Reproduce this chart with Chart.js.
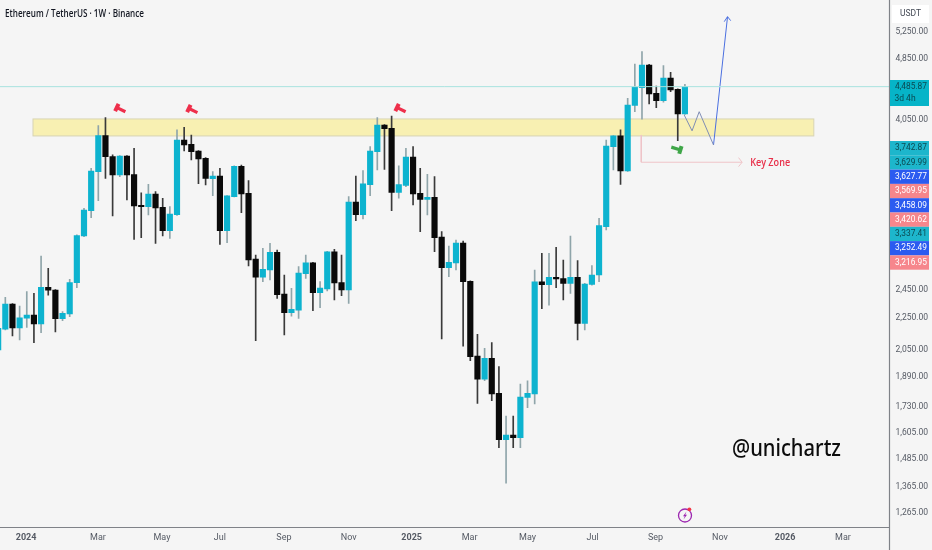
<!DOCTYPE html>
<html>
<head>
<meta charset="utf-8">
<title>Ethereum / TetherUS</title>
<script src="https://cdn.jsdelivr.net/npm/chart.js@4"></script>
<style>
  html, body { margin: 0; padding: 0; background: #f5f5f5; }
  canvas { display: block; }
</style>
</head>
<body>
<canvas id="chart" width="932" height="550"></canvas>
<script>
const opens = [
  2049, 2180, 2347, 2187, 2252, 2272, 2213, 2466, 2447, 2248,
  2279, 2501, 2871, 3094, 3473, 3863, 3631, 3439, 3638, 3442,
  3143, 3131, 3251, 3125, 2916, 3058, 3814, 3766, 3692, 3613,
  3402, 3429, 2916, 3225, 3528, 3257, 2682, 2541, 2596, 2735,
  2418, 2288, 2306, 2568, 2651, 2428, 2454, 2740, 2501, 2447,
  3175, 3058, 3342, 3685, 3987, 3949, 3267, 3335, 3627, 3257,
  3200, 3219, 2862, 2614, 2651, 2812, 2511, 2013, 1879, 1999,
  1802, 1572, 1593, 1581, 1781, 1799, 2506, 2486, 2541, 2531,
  2496, 2541, 2217, 2488, 2558, 2951, 3740, 3860, 3480, 4226,
  4452, 4761, 4379, 4285, 4582, 4431, 4119
];
const closes = [
  2185, 2347, 2187, 2254, 2272, 2213, 2466, 2445, 2248, 2284,
  2501, 2874, 3100, 3480, 3863, 3631, 3439, 3638, 3439, 3137,
  3131, 3251, 3119, 2916, 3064, 3814, 3758, 3685, 3606, 3405,
  3429, 2916, 3232, 3528, 3251, 2674, 2541, 2601, 2735, 2413,
  2288, 2311, 2573, 2651, 2428, 2461, 2740, 2498, 2447, 3175,
  3058, 3349, 3692, 3987, 3945, 3267, 3342, 3627, 3251, 3200,
  3219, 2857, 2614, 2656, 2812, 2508, 2009, 1879, 1999, 1799,
  1572, 1593, 1581, 1783, 1802, 2506, 2486, 2541, 2528, 2496,
  2541, 2217, 2491, 2558, 2960, 3747, 3860, 3480, 4230, 4461,
  4761, 4370, 4285, 4582, 4422, 4119, 4466
];
const highs = [
  2217, 2394, 2350, 2334, 2435, 2423, 2706, 2609, 2450, 2295,
  2526, 2880, 3115, 3507, 3980, 4075, 3649, 3642, 3642, 3721,
  3263, 3345, 3274, 3210, 3131, 3929, 3960, 3871, 3695, 3620,
  3473, 3507, 3236, 3532, 3542, 3382, 2714, 2768, 2809, 2754,
  2558, 2459, 2622, 2714, 2655, 2508, 2744, 2760, 2714, 3225,
  3429, 3483, 3740, 4075, 3991, 4095, 3532, 3721, 3740, 3507,
  3446, 3422, 2908, 2787, 2837, 2829, 2515, 2147, 2059, 2094,
  1951, 1685, 1685, 1853, 1870, 2596, 2727, 2727, 2776, 2674,
  2871, 2669, 2495, 2630, 3025, 3814, 3865, 3929, 4314, 4776,
  4953, 4771, 4475, 4752, 4660, 4436, 4497
];
const lows = [
  1989, 2174, 2136, 2111, 2191, 2094, 2157, 2409, 2161, 2235,
  2261, 2464, 2865, 3031, 3188, 3405, 3046, 3422, 3194, 2843,
  2857, 3055, 2809, 2871, 2851, 3052, 3692, 3595, 3352, 3339,
  3235, 2801, 2815, 3222, 3076, 2627, 2107, 2508, 2521, 2387,
  2142, 2265, 2250, 2533, 2302, 2322, 2440, 2376, 2406, 2352,
  3004, 3019, 3235, 3490, 3497, 3094, 3210, 3322, 3147, 2908,
  3055, 2740, 2117, 2546, 2596, 2073, 1985, 1750, 1871, 1764,
  1535, 1382, 1535, 1535, 1728, 1747, 2315, 2340, 2464, 2376,
  2423, 2111, 2174, 2483, 2508, 2922, 3490, 3345, 3475, 4147,
  4055, 4243, 4197, 4264, 4400, 3806, 4115
];

const xTickPositions = [3.9, 13.95, 22.9, 31, 39.95, 49, 57.8, 65.9, 74, 83.1, 91.9, 100.9, 110, 118.1];
const xTickLabels = ['2024', 'Mar', 'May', 'Jul', 'Sep', 'Nov', '2025', 'Mar', 'May', 'Jul', 'Sep', 'Nov', '2026', 'Mar'];
const yTicks = [5250, 4850, 4050, 2450, 2250, 2050, 1890, 1730, 1605, 1485, 1365, 1265];

const zoneLow = 3860;
const zoneHigh = 4059;
const zoneFrom = 4.87;
const zoneTo = 114.02;

const pathGrayX = [95.9, 97, 98, 100];
const pathGrayY = [4107, 3919, 4147, 3758];
const pathBlueX = [100, 101.96];
const pathBlueY = [3758, 5493];
const headBlueX = [101.5, 101.96, 102.4];
const headBlueY = [5413, 5493, 5429];

const keyLineX = [89.9, 89.9, 104];
const keyLineY = [3871, 3571, 3571];
const keyHeadX = [103.5, 104, 103.5];
const keyHeadY = [3620, 3571, 3525];

const redMarkX = [17.03, 27.1, 56.2];
const redMarkY = [4179, 4168, 4179];
const greenMarkX = [94.9];
const greenMarkY = [3715];

const lastPriceLabel = '4,485.87';
const lastTimeLabel = '3d 4h';
const sideLabels = ['3,742.87', '3,629.99', '3,627.77', '3,569.95', '3,458.09', '3,420.62', '3,337.41', '3,252.49', '3,216.95'];
const sideKinds = ['teal', 'teal', 'blue', 'red', 'blue', 'red', 'teal', 'blue', 'red'];

const TEAL = '#0db3cf';
const BLACK = '#0a0a0a';
const FONT = '"Open Sans", sans-serif';
const AXIS_FONT = 'Roboto, sans-serif';
const kindColors = { teal: ['#1db6cc', '#0b4a52'], blue: ['#2b5bf0', '#ffffff'], red: ['#f6868c', '#ffffff'] };

const idx = opens.map((_, i) => i);
const isUp = i => closes[i] >= opens[i];
const wicks = idx.map(i => ({ x: i, y: [lows[i], highs[i]] }));
const bodies = idx.map(i => ({ x: i, y: [opens[i], closes[i]] }));
const toPts = (xs, ys) => xs.map((x, i) => ({ x, y: ys[i] }));

const xMin = 0.257;
const xMax = 124.6;
const lastClose = closes[closes.length - 1];

function lineSet(data, color) {
  return { type: 'line', data, borderColor: color, borderWidth: 1, pointRadius: 0, tension: 0, fill: false, order: 0 };
}

function hammer(ctx, x, y, angle, color) {
  ctx.save();
  ctx.translate(x, y);
  ctx.rotate(angle);
  ctx.fillStyle = color;
  ctx.fillRect(-4.5, -1.6, 10.5, 3.2);
  ctx.fillRect(-5.5, -4, 4, 8);
  ctx.restore();
}

function noPadding(scale) {
  scale.paddingTop = 0;
  scale.paddingBottom = 0;
  scale.paddingLeft = 0;
  scale.paddingRight = 0;
}

const drawingPlugin = {
  id: 'drawing',
  beforeDatasetsDraw(chart) {
    const { ctx, scales: { x, y } } = chart;
    const left = x.getPixelForValue(zoneFrom);
    const right = x.getPixelForValue(zoneTo);
    const top = y.getPixelForValue(zoneHigh);
    const bottom = y.getPixelForValue(zoneLow);
    ctx.save();
    ctx.fillStyle = '#f8f0b2';
    ctx.strokeStyle = '#d8d4b4';
    ctx.lineWidth = 1;
    ctx.fillRect(left, top, right - left, bottom - top);
    ctx.strokeRect(left, top, right - left, bottom - top);
    ctx.restore();
  },
  afterDatasetsDraw(chart) {
    const { ctx, scales: { x, y }, chartArea } = chart;
    ctx.save();

    redMarkX.forEach((v, i) => hammer(ctx, x.getPixelForValue(v), y.getPixelForValue(redMarkY[i]), 0.45, '#ee2f4b'));
    greenMarkX.forEach((v, i) => hammer(ctx, x.getPixelForValue(v), y.getPixelForValue(greenMarkY[i]), Math.PI + 0.3, '#3fa648'));

    ctx.textBaseline = 'middle';
    ctx.fillStyle = '#e8304a';
    ctx.font = '600 10.5px ' + FONT;
    ctx.textAlign = 'left';
    ctx.fillText('Key Zone', x.getPixelForValue(keyLineX[2]) + 8, y.getPixelForValue(keyLineY[2]) + 1, 40);

    ctx.fillStyle = '#131722';
    ctx.font = '600 10.5px ' + FONT;
    ctx.fillText('Ethereum / TetherUS · 1W · Binance', 5, 14, 139);

    ctx.fillStyle = '#0c0c0c';
    ctx.font = '500 24px "Noto Sans", sans-serif';
    ctx.fillText('@unichartz', 732, 449, 109);

    // event badge on the time axis
    const bx = 685, by = 515.5;
    ctx.strokeStyle = '#9c27b0';
    ctx.lineWidth = 1.3;
    ctx.beginPath();
    ctx.arc(bx, by, 6.5, 0, Math.PI * 2);
    ctx.stroke();
    ctx.fillStyle = '#9c27b0';
    ctx.beginPath();
    ctx.moveTo(bx + 1.5, by - 4);
    ctx.lineTo(bx - 2, by + 0.8);
    ctx.lineTo(bx - 0.2, by + 0.8);
    ctx.lineTo(bx - 1.5, by + 4);
    ctx.lineTo(bx + 2, by - 0.8);
    ctx.lineTo(bx + 0.2, by - 0.8);
    ctx.closePath();
    ctx.fill();
    ctx.fillStyle = '#f23645';
    ctx.beginPath();
    ctx.arc(bx + 4.4, by - 6.2, 1.9, 0, Math.PI * 2);
    ctx.fill();

    // axis frame
    const axisX = Math.round(chartArea.right) - 0.5;
    const axisY = Math.round(chartArea.bottom) + 0.5;
    ctx.strokeStyle = '#7f8288';
    ctx.lineWidth = 1.2;
    ctx.beginPath();
    ctx.moveTo(axisX, 0);
    ctx.lineTo(axisX, 550);
    ctx.moveTo(0, axisY);
    ctx.lineTo(axisX, axisY);
    ctx.stroke();

    // price axis labels
    ctx.fillStyle = '#ffffff';
    ctx.fillRect(892, 5, 37, 18);
    ctx.fillStyle = '#444a55';
    ctx.font = '8.5px ' + AXIS_FONT;
    ctx.textAlign = 'center';
    ctx.fillText('USDT', 910.5, 14);

    ctx.fillStyle = '#06b4c8';
    ctx.fillRect(890, 80, 39, 26);
    ctx.fillStyle = '#0b4a52';
    ctx.fillText(lastPriceLabel, 911, 87, 32);
    ctx.fillText(lastTimeLabel, 905, 98.5);

    sideLabels.forEach((label, i) => {
      const [bg, fg] = kindColors[sideKinds[i]];
      const top = 141 + i * 14.3;
      ctx.fillStyle = bg;
      ctx.fillRect(890, top, 39, 14.3);
      ctx.fillStyle = fg;
      ctx.fillText(label, 911, top + 7.2, 32);
    });
    ctx.restore();
  }
};

new Chart(document.getElementById('chart'), {
  type: 'bar',
  data: {
    datasets: [
      lineSet(toPts([xMin, xMax], [lastClose, lastClose]), '#a9e3df'),
      {
        data: wicks,
        grouped: false,
        barThickness: 1,
        order: 3,
        backgroundColor: idx.map(i => (isUp(i) ? '#8fa5aa' : '#3a3a3a'))
      },
      {
        data: bodies,
        grouped: false,
        barThickness: 5.5,
        order: 2,
        backgroundColor: idx.map(i => (isUp(i) ? TEAL : BLACK))
      },
      lineSet(toPts(pathGrayX, pathGrayY), '#7f8db5'),
      lineSet(toPts(pathBlueX, pathBlueY), '#4a6fe0'),
      lineSet(toPts(headBlueX, headBlueY), '#4a6fe0'),
      lineSet(toPts(keyLineX, keyLineY), '#efc4c8'),
      lineSet(toPts(keyHeadX, keyHeadY), '#efc4c8')
    ]
  },
  options: {
    responsive: false,
    animation: false,
    devicePixelRatio: 1,
    layout: { padding: 0 },
    plugins: { legend: { display: false }, tooltip: { enabled: false } },
    scales: {
      x: {
        type: 'linear',
        min: xMin,
        max: xMax,
        offset: false,
        grid: { display: false, drawTicks: false },
        border: { display: false },
        afterBuildTicks: scale => { scale.ticks = xTickPositions.map(value => ({ value })); },
        afterFit: scale => { scale.height = 23.5; noPadding(scale); },
        ticks: {
          autoSkip: false,
          maxRotation: 0,
          padding: 6,
          color: '#555a64',
          font: ctx => ({
            family: 'Roboto, sans-serif',
            size: 9,
            weight: /^20/.test(xTickLabels[ctx.index]) ? '700' : '400'
          }),
          callback: (value, index) => xTickLabels[index]
        }
      },
      y: {
        type: 'logarithmic',
        position: 'right',
        min: 1215.5,
        max: 5771,
        grid: { display: false, drawTicks: false },
        border: { display: false },
        afterBuildTicks: scale => { scale.ticks = yTicks.map(value => ({ value })); },
        afterFit: scale => { scale.width = 42.5; noPadding(scale); },
        ticks: {
          autoSkip: false,
          padding: 6,
          color: '#555a64',
          font: { family: 'Roboto, sans-serif', size: 8.5 },
          callback: value => value.toLocaleString('en-US', { minimumFractionDigits: 2, maximumFractionDigits: 2 })
        }
      }
    }
  },
  plugins: [drawingPlugin]
});
</script>
</body>
</html>
